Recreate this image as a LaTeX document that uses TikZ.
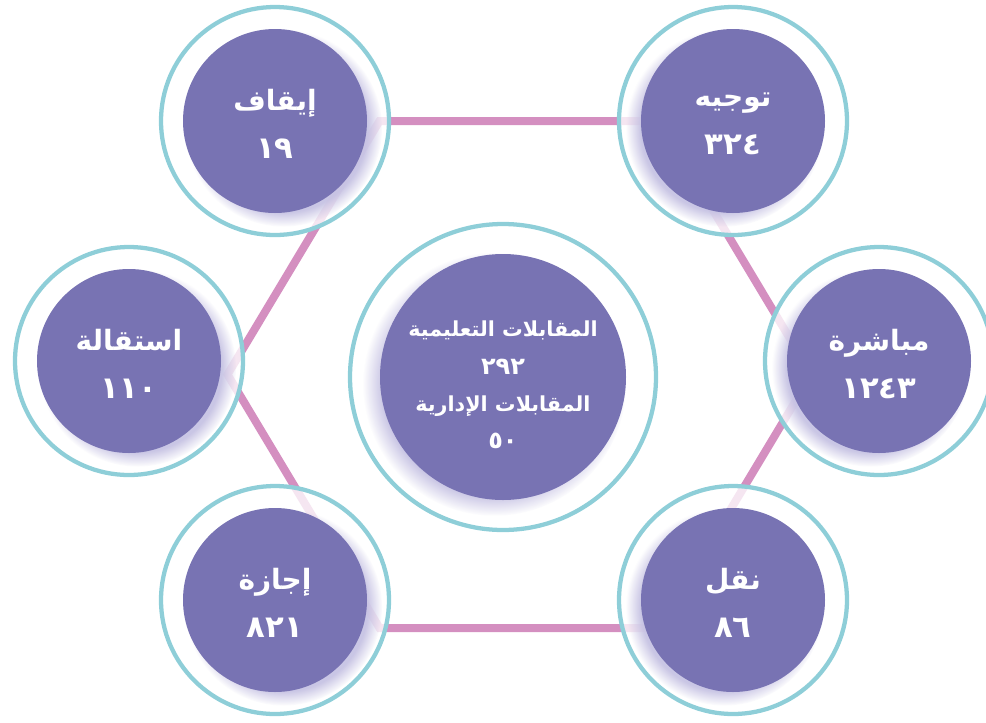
\documentclass[tikz,border=0pt]{standalone}
\usepackage{fontspec}
\usepackage{tikz}
\usetikzlibrary{shadows, positioning}
\TeXXeTstate=1
\newfontfamily\arfont[Script=Arabic]{DejaVu Sans}
\newcommand\numsize{\fontsize{23}{36}\selectfont}
\newcommand\midnumsize{\fontsize{18}{28}\selectfont}

\definecolor{ringteal}{RGB}{142,206,216}
\definecolor{discpurple}{RGB}{120,115,179}
\definecolor{hexpink}{RGB}{212,143,192}
\definecolor{shadowlav}{RGB}{196,192,226}

\tikzset{
    ring/.style={circle, draw=ringteal, line width=3.2pt, fill=white, fill opacity=0.78, minimum size=171pt, inner sep=0pt},
    bigring/.style={ring, minimum size=229.5pt},
    disc/.style={circle, fill=discpurple, minimum size=138pt, inner sep=0pt},
    bigdisc/.style={disc, minimum size=184.5pt},
    lbl/.style={text=white, align=center, inner sep=0pt, font=\arfont\bfseries\fontsize{21}{36}\selectfont},
    midlbl/.style={lbl, font=\arfont\bfseries\fontsize{15.5}{28}\selectfont},
    shadowright/.style={circular drop shadow={shadow xshift=6pt, shadow yshift=-5pt, shadow scale=1.07, fill=shadowlav, opacity=0.9}},
    shadowleft/.style={circular drop shadow={shadow xshift=-6pt, shadow yshift=-5pt, shadow scale=1.07, fill=shadowlav, opacity=0.9}},
    hexline/.style={draw=hexpink, line width=6pt}
}

\begin{document}
\begin{tikzpicture}[x=0.75pt,y=0.75pt,yscale=-1,xscale=1]
    \useasboundingbox (0,0) rectangle (986,722);

    %Hexagon corners
    \coordinate (h1) at (379.5,121);
    \coordinate (h2) at (659.5,121);
    \coordinate (h3) at (811.5,374.5);
    \coordinate (h4) at (659.5,628);
    \coordinate (h5) at (379.5,628);
    \coordinate (h6) at (227.5,374.5);
    %Straight Lines
    \draw [hexline] (h1) -- (h2) -- (h3) -- (h4) -- (h5) -- (h6) -- cycle;

    %Shape: Rings
    \node [ring] (ringStop) at (275,121) {};
    \node [ring] (ringDirect) at (733,121) {};
    \node [ring] (ringResign) at (129,361) {};
    \node [ring] (ringStart) at (879,361) {};
    \node [ring] (ringLeave) at (275,600) {};
    \node [ring] (ringMove) at (733,600) {};
    \node [bigring] (ringMid) at (503,377) {};

    %Shape: Discs
    \node [disc, shadowright] (stop) at (ringStop) {};
    \node [disc, shadowleft] (direct) at (ringDirect) {};
    \node [disc, shadowright] (resign) at (ringResign) {};
    \node [disc, shadowleft] (start) at (ringStart) {};
    \node [disc, shadowright] (leave) at (ringLeave) {};
    \node [disc, shadowleft] (move) at (ringMove) {};
    \node [bigdisc, shadowleft] (mid) at (ringMid) {};

    % Text Node
    \node [lbl, yshift=-2pt] (stopText) at (stop) {\beginR إيقاف\endR\\\numsize ١٩};
    % Text Node
    \node [lbl, yshift=-2pt] (directText) at (direct) {\beginR توجيه\endR\\\numsize ٣٢٤};
    % Text Node
    \node [lbl, yshift=-2pt] (resignText) at (resign) {\beginR استقالة\endR\\\numsize ١١٠};
    % Text Node
    \node [lbl, yshift=-2pt] (startText) at (start) {\beginR مباشرة\endR\\\numsize ١٢٤٣};
    % Text Node
    \node [lbl, yshift=-2pt] (leaveText) at (leave) {\beginR إجازة\endR\\\numsize ٨٢١};
    % Text Node
    \node [lbl, yshift=-2pt] (moveText) at (move) {\beginR نقل\endR\\\numsize ٨٦};
    % Text Node
    \node [midlbl, yshift=-6pt] (midText) at (mid) {\beginR المقابلات التعليمية\endR\\\midnumsize ٢٩٢\\\beginR المقابلات الإدارية\endR\\\midnumsize ٥٠};

\end{tikzpicture}
\end{document}
